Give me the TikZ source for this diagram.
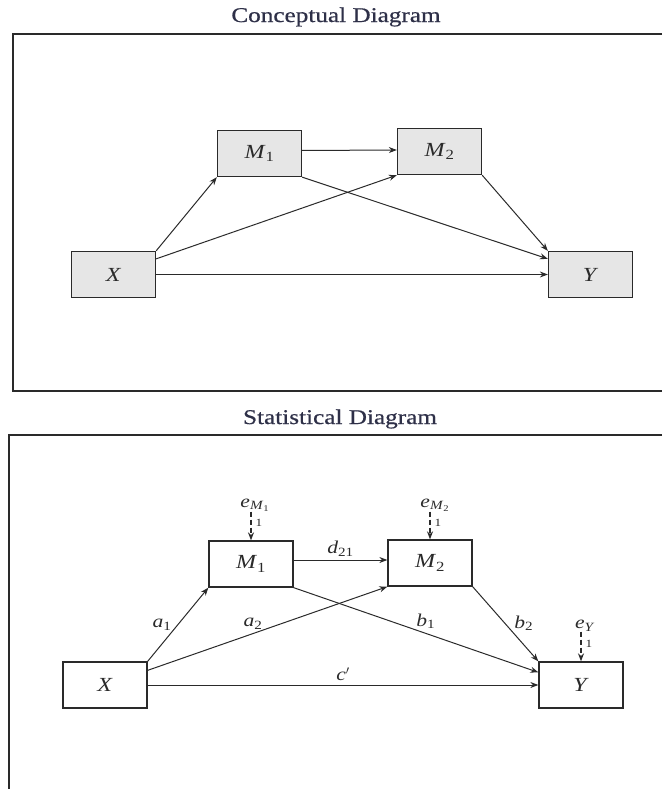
\documentclass[tikz,border=0pt]{standalone}
\usepackage{fontspec}
\setmainfont[FakeStretch=1.2]{Liberation Serif}
\newfontfamily\titlefont[FakeStretch=1.2,FakeBold=0.6]{Liberation Serif}
\usetikzlibrary{arrows.meta,calc}
\definecolor{ink}{HTML}{2A2A2A}
\definecolor{boxfill}{HTML}{E6E6E6}
\definecolor{titleink}{HTML}{2E3048}
\newcommand{\vr}[2]{\textit{#1}\textsubscript{#2}}
\begin{document}
\begin{tikzpicture}[x=1pt,y=-1pt,
 frame/.style={draw=ink,line width=1.4pt},
 cbox/.style={draw=ink,fill=boxfill,line width=1.3pt,minimum width=84pt,minimum height=46pt,inner sep=0pt,text=ink,font=\fontsize{20}{20}\selectfont},
 sbox/.style={cbox,fill=white},
 arr/.style={draw=ink,line width=1pt,-{Stealth[length=8pt,width=6pt]}},
 darr/.style={arr,dash pattern=on 5pt off 3pt,line width=1.4pt},
 lab/.style={font=\fontsize{18}{18}\selectfont,text=ink,inner sep=0pt},
 ttl/.style={font=\titlefont\fontsize{21}{21}\selectfont,text=titleink,inner sep=0pt},
 one/.style={font=\fontsize{11}{11}\selectfont,text=ink,inner sep=1pt}
]
\useasboundingbox (0,0) rectangle (662,789);

% frames
\draw[frame] (662,34) -- (13,34) -- (13,391) -- (662,391);
\draw[frame] (662,435) -- (9,435) -- (9,789);

% titles
\node[ttl] (t1) at (336,17) {Conceptual Diagram};
\node[ttl] (t2) at (340,419) {Statistical Diagram};

% conceptual diagram
\node[cbox] (cX) at (113.5,274.5) {\textit{X}};
\node[cbox] (cM1) at (259.5,153.5) {\vr{M}{1}};
\node[cbox] (cM2) at (439.5,151.5) {\vr{M}{2}};
\node[cbox] (cY) at (590.5,274.5) {\textit{Y}};

\draw[arr] (cX.north east) -- (cM1.south west);
\draw[arr] ($(cX.north east)+(0,8)$) -- (cM2.south west);
\draw[arr] (cX.east) -- (cY.west);
\draw[arr] ($(cM1.east)+(0,-3)$) -- ($(cM2.west)+(0,-1.5)$);
\draw[arr] (cM1.south east) -- ($(cY.north west)+(0,8)$);
\draw[arr] (cM2.south east) -- (cY.north west);

% statistical diagram
\node[sbox] (sX) at (105,685) {\textit{X}};
\node[sbox] (sM1) at (251,564) {\vr{M}{1}};
\node[sbox] (sM2) at (430,563) {\vr{M}{2}};
\node[sbox] (sY) at (581,685) {\textit{Y}};

\draw[arr] (sX.north east) -- (sM1.south west) node[lab,pos=0.5,left=6pt] {\vr{a}{1}};
\draw[arr] ($(sX.north east)+(0,9)$) -- (sM2.south west) node[lab,pos=0.44,above=4pt] {\vr{a}{2}};
\draw[arr] (sX.east) -- (sY.west) node[lab,pos=0.5,above=4pt] {\textit{c}$'$};
\draw[arr] ($(sM1.east)+(0,-4)$) -- ($(sM2.west)+(0,-3)$) node[lab,pos=0.5,above=3pt] {\vr{d}{21}};
\draw[arr] (sM1.south east) -- ($(sY.north west)+(0,11)$) node[lab,pos=0.54,above=4pt] {\vr{b}{1}};
\draw[arr] (sM2.south east) -- (sY.north west) node[lab,pos=0.49,right=9pt] {\vr{b}{2}};

% error terms
\node[lab] (eM1) at (255,505) {\textit{e}\textsubscript{\vr{M}{1}}};
\node[lab] (eM2) at (435,505) {\textit{e}\textsubscript{\vr{M}{2}}};
\node[lab] (eY) at (585,626) {\textit{e}\textsubscript{\textit{Y}}};
\draw[darr] (eM1.south -| sM1.north) -- (sM1.north) node[one,pos=0.4,right=3pt] {1};
\draw[darr] (eM2.south -| sM2.north) -- (sM2.north) node[one,pos=0.4,right=3pt] {1};
\draw[darr] (eY.south -| sY.north) -- (sY.north) node[one,pos=0.4,right=3pt] {1};
\end{tikzpicture}
\end{document}
